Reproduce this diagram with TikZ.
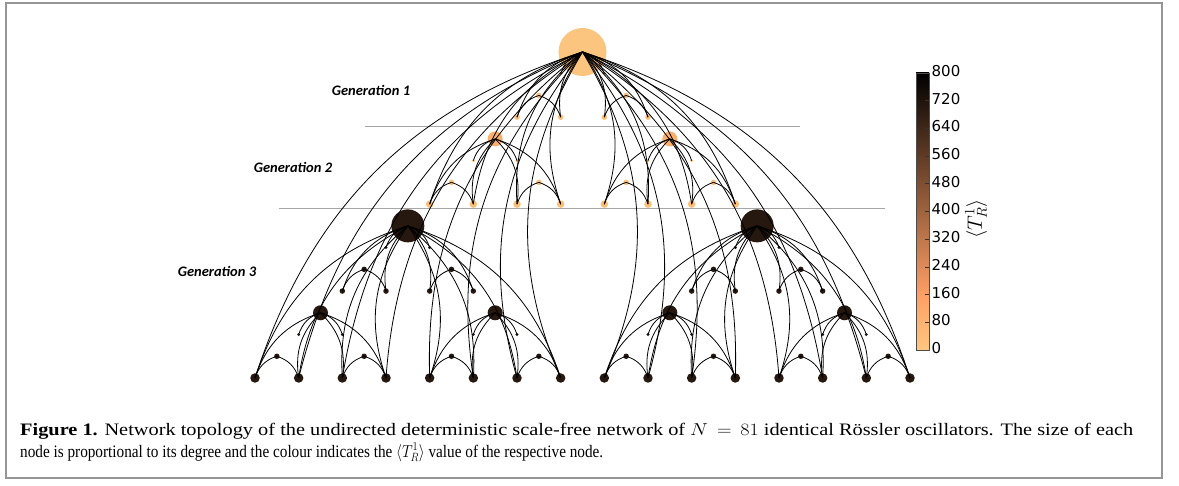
\documentclass[tikz,border=0pt]{standalone}
\usepackage{fontspec}
\usepackage{graphicx}
\setmainfont{Liberation Serif}
\newfontfamily\genfont{Carlito}
\newfontfamily\cbfont{DejaVu Sans}
\definecolor{croot}{RGB}{252,197,127}
\definecolor{corg}{RGB}{253,190,118}
\definecolor{chubo}{RGB}{250,176,108}
\definecolor{cdark}{RGB}{38,24,15}
\definecolor{cmid}{RGB}{255,159,101}
\definecolor{cbot}{RGB}{255,199,127}
\definecolor{framegray}{RGB}{150,150,150}
\tikzset{
  nd/.style={circle, inner sep=0pt, draw=none},
  rootnd/.style={nd, fill=croot, minimum size=48pt},
  hubA/.style={nd, fill=cdark, minimum size=33pt},
  hubB/.style={nd, minimum size=15pt},
  hubC/.style={nd, minimum size=5.5pt},
  degfour/.style={nd, minimum size=9.5pt},
  degthree/.style={nd, minimum size=7.5pt},
  degtwo/.style={nd, minimum size=5.5pt},
  degone/.style={nd, minimum size=3.2pt},
  lnk/.style={black, line width=0.8pt},
  genlabel/.style={font=\genfont\bfseries\itshape\fontsize{14.5}{16}\selectfont, inner sep=0pt},
  cblabel/.style={font=\cbfont\fontsize{15}{17}\selectfont, anchor=west, inner sep=0pt},
  sepline/.style={draw=gray!70, line width=1pt}
}
\newcommand\pl[3]{\node[#3] (n#1x#2) at ({255+21.833*#1},{52+21.733*#2}) {};}
\newcommand\fan[4]{%
  \foreach \t in {#4}{%
    \pgfmathsetmacro\bd{\t<#2 ? -27 : 27}%
    \draw[lnk] (#1.center) to[bend left=\bd] (n\t x#3.center);
  }%
}
\begin{document}
\begin{tikzpicture}[x=1pt,y=-1pt]
\useasboundingbox (0,0) rectangle (1179,486);
\fill[white] (0,0) rectangle (1179,486);
\draw[framegray, line width=1.6pt] (6,3) rectangle (1162,478);

% separator lines
\draw[sepline] (365,127) coordinate (s1a) -- (800,127) coordinate (s1b);
\draw[sepline] (279,209) coordinate (s2a) -- (885,209) coordinate (s2b);

% generation labels
\node[genlabel] (g1) at (371,90) {Generation 1};
\node[genlabel] (g2) at (293,167) {Generation 2};
\node[genlabel] (g3) at (217,271) {Generation 3};

% nodes
\pl{15}{0}{rootnd}
\pl{7}{8}{hubA}
\pl{23}{8}{hubA}
\foreach \h in {11,19} {\pl{\h}{4}{hubB, fill=chubo}}
\foreach \h in {3,11,19,27} {\pl{\h}{12}{hubB, fill=cdark}}
\foreach \h in {13,17} {\pl{\h}{2}{hubC, fill=corg}}
\foreach \h in {9,13,17,21} {\pl{\h}{6}{hubC, fill=corg}}
\foreach \h in {5,9,21,25} {\pl{\h}{10}{hubC, fill=cdark}}
\foreach \h in {1,5,9,13,17,21,25,29} {\pl{\h}{14}{hubC, fill=cdark}}
\foreach \h in {14,16} {\pl{\h}{1}{degone, fill=corg}}
\foreach \h in {12,14,16,18} {\pl{\h}{3}{degtwo, fill=corg}}
\foreach \h in {10,12,18,20} {\pl{\h}{5}{degone, fill=corg}}
\foreach \h in {8,10,...,22} {\pl{\h}{7}{degthree, fill=corg}}
\foreach \h in {6,8,22,24} {\pl{\h}{9}{degone, fill=cdark}}
\foreach \h in {4,6,8,10,20,22,24,26} {\pl{\h}{11}{degtwo, fill=cdark}}
\foreach \h in {2,4,10,12,18,20,26,28} {\pl{\h}{13}{degone, fill=cdark}}
\foreach \h in {0,2,...,30} {\pl{\h}{15}{degfour, fill=cdark}}

% edges: level 4 unit
\fan{n15x0}{15}{15}{0,2,...,30}
% level 3 units
\fan{n15x0}{15}{7}{8,10,...,22}
\fan{n7x8}{7}{15}{0,2,...,14}
\fan{n23x8}{23}{15}{16,18,...,30}
% level 2 units
\fan{n15x0}{15}{3}{12,14,16,18}
\fan{n11x4}{11}{7}{8,10,12,14}
\fan{n19x4}{19}{7}{16,18,20,22}
\fan{n7x8}{7}{11}{4,6,8,10}
\fan{n23x8}{23}{11}{20,22,24,26}
\fan{n3x12}{3}{15}{0,2,4,6}
\fan{n11x12}{11}{15}{8,10,12,14}
\fan{n19x12}{19}{15}{16,18,20,22}
\fan{n27x12}{27}{15}{24,26,28,30}
% level 1 units
\fan{n15x0}{15}{1}{14,16}
\fan{n13x2}{13}{3}{12,14}
\fan{n17x2}{17}{3}{16,18}
\fan{n11x4}{11}{5}{10,12}
\fan{n19x4}{19}{5}{18,20}
\fan{n9x6}{9}{7}{8,10}
\fan{n13x6}{13}{7}{12,14}
\fan{n17x6}{17}{7}{16,18}
\fan{n21x6}{21}{7}{20,22}
\fan{n7x8}{7}{9}{6,8}
\fan{n23x8}{23}{9}{22,24}
\fan{n5x10}{5}{11}{4,6}
\fan{n9x10}{9}{11}{8,10}
\fan{n21x10}{21}{11}{20,22}
\fan{n25x10}{25}{11}{24,26}
\fan{n3x12}{3}{13}{2,4}
\fan{n11x12}{11}{13}{10,12}
\fan{n19x12}{19}{13}{18,20}
\fan{n27x12}{27}{13}{26,28}
\fan{n1x14}{1}{15}{0,2}
\fan{n5x14}{5}{15}{4,6}
\fan{n9x14}{9}{15}{8,10}
\fan{n13x14}{13}{15}{12,14}
\fan{n17x14}{17}{15}{16,18}
\fan{n21x14}{21}{15}{20,22}
\fan{n25x14}{25}{15}{24,26}
\fan{n29x14}{29}{15}{28,30}

% colour bar
\shade[bottom color=cbot, top color=cmid] (916,350) rectangle (929,294.6);
\shade[bottom color=cmid, top color=black] (916,294.8) rectangle (929,73);
\draw[black!70, line width=0.8pt] (916,73) rectangle (929,350);
\foreach \v in {80,160,...,720} {\draw[black!80, line width=0.7pt] (925,{350-0.34625*\v}) -- (929,{350-0.34625*\v});}
\foreach \v in {0,80,...,800} {\node[cblabel] (cb\v) at (931.5,{348-0.34625*\v}) {\v};}
\node[rotate=90, inner sep=0pt, font=\fontsize{20}{22}\selectfont] (cbtitle) at (976,219) {$\langle T_R^1\rangle$};

% caption
\node[anchor=base west, inner sep=0pt, font=\fontsize{17.5}{21}\selectfont] (cap1) at (20,436)
  {\resizebox{1113pt}{\height}{\textbf{Figure 1.} Network topology of the undirected deterministic scale-free network of $N\,=\,81$ identical R\"ossler oscillators. The size of each}};
\node[anchor=base west, inner sep=0pt, font=\fontsize{17.5}{21}\selectfont] (cap2) at (20,457)
  {\resizebox{583pt}{\height}{node is proportional to its degree and the colour indicates the $\langle T_R^1\rangle$ value of the respective node.}};
\end{tikzpicture}
\end{document}
